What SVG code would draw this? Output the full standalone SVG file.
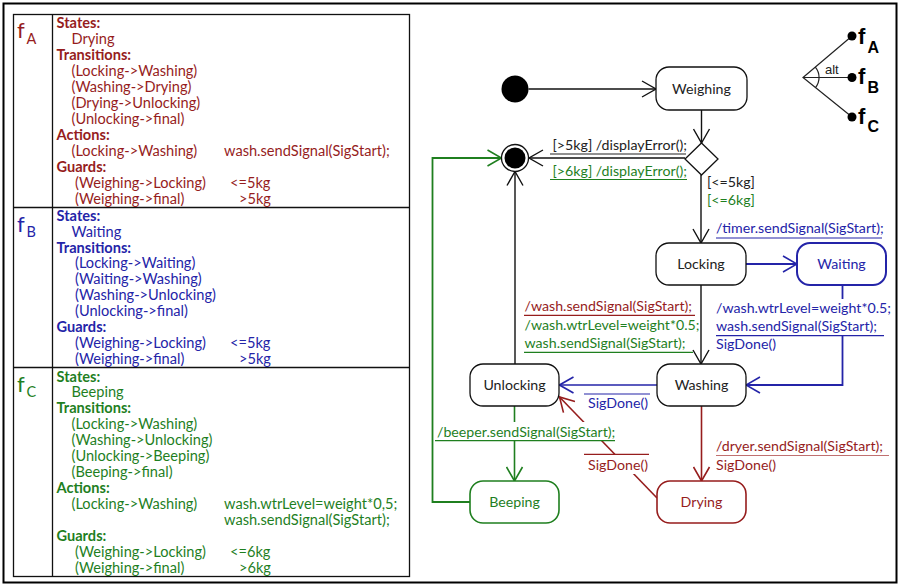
<svg xmlns="http://www.w3.org/2000/svg" width="898" height="585" viewBox="0 0 898 585">
  <style>
    .t { font-family: Lato, "Liberation Sans", Arial, sans-serif; font-size: 14.2px; }
    .p { font-size: 14.6px; }
    .b { font-weight: bold; }
    .red { fill: #961d1d; }
    .blue { fill: #2424a8; }
    .green { fill: #1f7f1f; }
    .blk { fill: #222222; }
    .mid { text-anchor: middle; }
    .node { fill: #ffffff; stroke: #111111; stroke-width: 1.3; }
    .grid { fill: none; stroke: #111111; stroke-width: 1.3; }
    .ln { fill: none; stroke-width: 1.4; }
    .k { stroke: #111111; }
    .bl { stroke: #2424a8; }
    .gr { stroke: #1f7f1f; }
    .rd { stroke: #961d1d; }
    .feat { font-family: "Liberation Sans", Arial, sans-serif; font-weight: bold; fill: #000; }
  </style>
  <defs>
    <marker id="ak" markerUnits="userSpaceOnUse" viewBox="0 0 16 18" markerWidth="16" markerHeight="18" refX="15" refY="9" orient="auto">
      <path d="M1,1 L15,9 L1,17" fill="none" stroke="#111111" stroke-width="1.4"/>
    </marker>
    <marker id="ab" markerUnits="userSpaceOnUse" viewBox="0 0 16 18" markerWidth="16" markerHeight="18" refX="15" refY="9" orient="auto">
      <path d="M1,1 L15,9 L1,17" fill="none" stroke="#2424a8" stroke-width="1.6"/>
    </marker>
    <marker id="ag" markerUnits="userSpaceOnUse" viewBox="0 0 16 18" markerWidth="16" markerHeight="18" refX="15" refY="9" orient="auto">
      <path d="M1,1 L15,9 L1,17" fill="none" stroke="#1f7f1f" stroke-width="1.6"/>
    </marker>
    <marker id="ar" markerUnits="userSpaceOnUse" viewBox="0 0 16 18" markerWidth="16" markerHeight="18" refX="15" refY="9" orient="auto">
      <path d="M1,1 L15,9 L1,17" fill="none" stroke="#961d1d" stroke-width="1.6"/>
    </marker>
  </defs>

  <rect width="898" height="585" fill="#ffffff"/>
  <!-- outer frame -->
  <rect x="3.5" y="3.5" width="893" height="579" fill="none" stroke="#000" stroke-width="2"/>

  <!-- feature table -->
  <g id="feature-table">
    <rect class="grid" x="13.5" y="14.5" width="396" height="562"/>
    <line class="grid" x1="52.5" y1="14.5" x2="52.5" y2="576.5"/>
    <line class="grid" x1="13.5" y1="207.5" x2="409.5" y2="207.5"/>
    <line class="grid" x1="13.5" y1="367.5" x2="409.5" y2="367.5"/>
  </g>

  <g id="fA" class="t p red">
    <text x="17" y="38" style="font-size:22px">f</text>
    <text x="26.5" y="43.5" style="font-size:14.5px">A</text>
    <text class="b" x="56.5" y="28.3">States:</text>
    <text x="71.5" y="44.3">Drying</text>
    <text class="b" x="56.5" y="60.3">Transitions:</text>
    <text x="71.5" y="76.2">(Locking-&gt;Washing)</text>
    <text x="71.5" y="92">(Washing-&gt;Drying)</text>
    <text x="71.5" y="107.8">(Drying-&gt;Unlocking)</text>
    <text x="71.5" y="123.6">(Unlocking-&gt;final)</text>
    <text class="b" x="56.5" y="139.5">Actions:</text>
    <text x="71.5" y="155.8">(Locking-&gt;Washing)</text>
    <text x="224" y="155.8">wash.sendSignal(SigStart);</text>
    <text class="b" x="56.5" y="171.7">Guards:</text>
    <text x="75" y="188">(Weighing-&gt;Locking)</text>
    <text x="230" y="188">&lt;=5kg</text>
    <text x="75" y="204">(Weighing-&gt;final)</text>
    <text x="239" y="204">&gt;5kg</text>
  </g>

  <g id="fB" class="t p blue">
    <text x="17" y="231.5" style="font-size:22px">f</text>
    <text x="26.5" y="237" style="font-size:14.5px">B</text>
    <text class="b" x="56.5" y="220.7">States:</text>
    <text x="71.5" y="236.6">Waiting</text>
    <text class="b" x="56.5" y="252.6">Transitions:</text>
    <text x="75" y="268.4">(Locking-&gt;Waiting)</text>
    <text x="75" y="284.3">(Waiting-&gt;Washing)</text>
    <text x="75" y="300.2">(Washing-&gt;Unlocking)</text>
    <text x="75" y="316">(Unlocking-&gt;final)</text>
    <text class="b" x="56.5" y="331.8">Guards:</text>
    <text x="75" y="347.8">(Weighing-&gt;Locking)</text>
    <text x="230" y="347.8">&lt;=5kg</text>
    <text x="75" y="363.5">(Weighing-&gt;final)</text>
    <text x="239" y="363.5">&gt;5kg</text>
  </g>

  <g id="fC" class="t p green">
    <text x="17" y="391.5" style="font-size:22px">f</text>
    <text x="26.5" y="397" style="font-size:14.5px">C</text>
    <text class="b" x="56.5" y="381.6">States:</text>
    <text x="71.5" y="397.4">Beeping</text>
    <text class="b" x="56.5" y="413.3">Transitions:</text>
    <text x="71.5" y="429.1">(Locking-&gt;Washing)</text>
    <text x="71.5" y="445">(Washing-&gt;Unlocking)</text>
    <text x="71.5" y="461">(Unlocking-&gt;Beeping)</text>
    <text x="71.5" y="476.8">(Beeping-&gt;final)</text>
    <text class="b" x="56.5" y="492.7">Actions:</text>
    <text x="71.5" y="509">(Locking-&gt;Washing)</text>
    <text x="224" y="509">wash.wtrLevel=weight*0,5;</text>
    <text x="224" y="525.4">wash.sendSignal(SigStart);</text>
    <text class="b" x="56.5" y="541.4">Guards:</text>
    <text x="75" y="557.2">(Weighing-&gt;Locking)</text>
    <text x="230" y="557.2">&lt;=6kg</text>
    <text x="75" y="572.6">(Weighing-&gt;final)</text>
    <text x="239" y="572.6">&gt;6kg</text>
  </g>

  <!-- alternative feature group -->
  <g id="alt-group">
    <path d="M852,36 L803,77.5 L852,117 M803,77.5 H852" fill="none" stroke="#222" stroke-width="1.2"/>
    <path d="M815.3,67.2 A16,16 0 0 1 815.3,87.8" fill="none" stroke="#222" stroke-width="1.2"/>
    <circle cx="852" cy="36" r="4.5" fill="#000"/>
    <circle cx="852" cy="77.5" r="4.5" fill="#000"/>
    <circle cx="852" cy="117" r="4.5" fill="#000"/>
    <text x="825" y="73.5" style="font-family:'Liberation Sans',Arial,sans-serif;font-size:13px" fill="#222">alt</text>
    <text class="feat" x="858" y="44" font-size="22">f</text>
    <text class="feat" x="867.5" y="53" font-size="16">A</text>
    <text class="feat" x="858" y="84" font-size="22">f</text>
    <text class="feat" x="867.5" y="93" font-size="16">B</text>
    <text class="feat" x="858" y="124" font-size="22">f</text>
    <text class="feat" x="867.5" y="131.5" font-size="16">C</text>
  </g>

  <!-- transitions -->
  <g id="connectors">
    <path class="ln k" d="M528.5,89 H656" marker-end="url(#ak)"/>
    <path class="ln k" d="M701.5,110 V143" marker-end="url(#ak)"/>
    <path class="ln k" d="M685,158 H529" marker-end="url(#ak)"/>
    <path class="ln k" d="M701,175 V243" marker-end="url(#ak)"/>
    <path class="ln k" d="M701,285 V364" marker-end="url(#ak)"/>
    <path class="ln k" d="M515,364 V171.5" marker-end="url(#ak)"/>
    <path class="ln bl" d="M746,264 H797" marker-end="url(#ab)" style="stroke-width:1.8"/>
    <path class="ln bl" d="M842.5,285 V385 H746" marker-end="url(#ab)" style="stroke-width:1.8"/>
    <path class="ln bl" d="M657,385 H559.5" marker-end="url(#ab)" style="stroke-width:1.6"/>
    <path class="ln rd" d="M701.5,406 V481" marker-end="url(#ar)" style="stroke-width:1.6"/>
    <path class="ln rd" d="M657,498 L559.5,397" marker-end="url(#ar)" style="stroke-width:1.6"/>
    <path class="ln gr" d="M514.5,406 V481" marker-end="url(#ag)" style="stroke-width:1.6"/>
    <path class="ln gr" d="M470,502 H432.5 V158 H501.5" marker-end="url(#ag)" style="stroke-width:1.8"/>
  </g>

  <!-- transition labels -->
  <g id="labels" class="t">
    <text class="blk" x="552.5" y="150">[&gt;5kg] /displayError();</text>
    <line x1="550" y1="154" x2="686" y2="154" stroke="#222" stroke-width="1.2"/>
    <text class="green" x="552.5" y="175.5">[&gt;6kg] /displayError();</text>
    <line x1="550" y1="179.5" x2="687" y2="179.5" stroke="#1f7f1f" stroke-width="1.2"/>
    <text class="blk" x="707" y="187">[&lt;=5kg]</text>
    <text class="green" x="707" y="205">[&lt;=6kg]</text>

    <text class="blue" x="716" y="233">/timer.sendSignal(SigStart);</text>
    <line x1="716" y1="238" x2="882" y2="238" stroke="#2424a8" stroke-width="1.2"/>

    <text class="red" x="524.5" y="311">/wash.sendSignal(SigStart);</text>
    <line x1="524" y1="315.3" x2="695" y2="315.3" stroke="#961d1d" stroke-width="1.2"/>
    <text class="green" x="524.5" y="330">/wash.wtrLevel=weight*0.5;</text>
    <text class="green" x="524.5" y="347.5">wash.sendSignal(SigStart);</text>
    <line x1="524" y1="352.3" x2="693" y2="352.3" stroke="#1f7f1f" stroke-width="1.2"/>

    <rect x="714" y="299" width="174" height="36" fill="#ffffff"/>
    <text class="blue" x="716" y="313">/wash.wtrLevel=weight*0.5;</text>
    <text class="blue" x="716" y="331">wash.sendSignal(SigStart);</text>
    <line x1="716" y1="335.7" x2="884" y2="335.7" stroke="#2424a8" stroke-width="1.2"/>
    <text class="blue" x="716" y="349">SigDone()</text>

    <line x1="584" y1="394" x2="650" y2="394" stroke="#2424a8" stroke-width="1.2"/>
    <text class="blue" x="588" y="407.5">SigDone()</text>

    <rect x="435" y="422" width="180" height="19" fill="#ffffff"/>
    <text class="green" x="437" y="436.5">/beeper.sendSignal(SigStart);</text>
    <line x1="435" y1="440.7" x2="615" y2="440.7" stroke="#1f7f1f" stroke-width="1.2"/>

    <rect x="584" y="455" width="66" height="19" fill="#ffffff"/>
    <line x1="584" y1="454.3" x2="649" y2="454.3" stroke="#961d1d" stroke-width="1.2"/>
    <text class="red" x="588" y="469.5">SigDone()</text>

    <text class="red" x="716" y="451">/dryer.sendSignal(SigStart);</text>
    <line x1="716" y1="455.5" x2="889" y2="455.5" stroke="#c07070" stroke-width="1.2"/>
    <text class="red" x="716" y="469.5">SigDone()</text>
  </g>

  <!-- states -->
  <g id="initial">
    <circle cx="515" cy="89" r="13.5" fill="#000"/>
  </g>
  <g id="final">
    <circle cx="515" cy="158" r="13.5" fill="#fff" stroke="#111" stroke-width="1.3"/>
    <circle cx="515" cy="158" r="10.5" fill="#000"/>
  </g>
  <g id="decision">
    <polygon points="701.5,143 718,159 701.5,175 685,159" fill="#fff" stroke="#111" stroke-width="1.3"/>
  </g>
  <g id="weighing">
    <rect class="node" x="656" y="67" width="91" height="43" rx="13"/>
    <text class="t blk mid" x="701.5" y="93.5">Weighing</text>
  </g>
  <g id="locking">
    <rect class="node" x="656" y="243" width="90" height="42" rx="13"/>
    <text class="t blk mid" x="701" y="268.5">Locking</text>
  </g>
  <g id="waiting">
    <rect class="node" x="797" y="243" width="89" height="42" rx="13" style="stroke:#2424a8;stroke-width:2"/>
    <text class="t blue mid" x="841.5" y="268.5">Waiting</text>
  </g>
  <g id="washing">
    <rect class="node" x="657" y="364" width="89" height="42" rx="13"/>
    <text class="t blk mid" x="701.5" y="389.5">Washing</text>
  </g>
  <g id="unlocking">
    <rect class="node" x="470" y="364" width="89" height="42" rx="13"/>
    <text class="t blk mid" x="514.5" y="389.5">Unlocking</text>
  </g>
  <g id="beeping">
    <rect class="node" x="470" y="481" width="89" height="42" rx="13" style="stroke:#1f7f1f;stroke-width:1.6"/>
    <text class="t green mid" x="514.5" y="506.5">Beeping</text>
  </g>
  <g id="drying">
    <rect class="node" x="657" y="481" width="89" height="42" rx="13" style="stroke:#961d1d;stroke-width:1.6"/>
    <text class="t red mid" x="701.5" y="506.5">Drying</text>
  </g>
</svg>
